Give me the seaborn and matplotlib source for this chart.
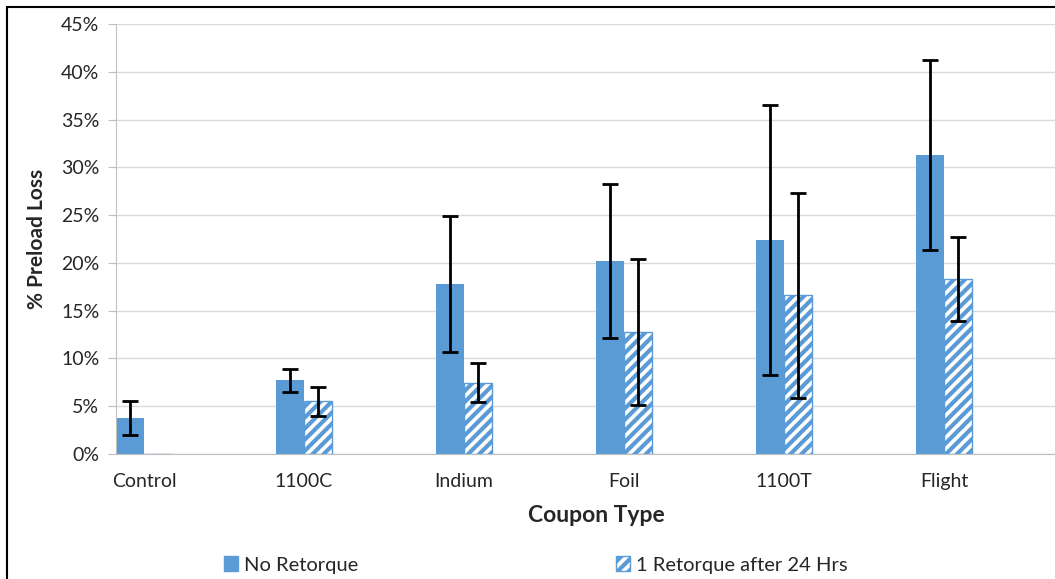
import numpy as np
import pandas as pd
import matplotlib
matplotlib.use("Agg")
import matplotlib.pyplot as plt
from matplotlib.patches import Patch, Rectangle
import seaborn as sns

# values (percent)
coupons = ["Control", "1100C", "Indium", "Foil", "1100T", "Flight"]
no_retorque = [3.75, 7.7, 17.8, 20.2, 22.4, 31.3]
no_retorque_err = [1.75, 1.2, 7.1, 8.1, 14.1, 9.9]
retorque = [0.0, 5.5, 7.45, 12.8, 16.6, 18.3]
retorque_err = [0.0, 1.5, 2.05, 7.65, 10.7, 4.4]
series = ["No Retorque", "1 Retorque after 24 Hrs"]

blue = "#5B9BD5"

df = pd.DataFrame({
    "coupon": coupons * 2,
    "series": [series[0]] * len(coupons) + [series[1]] * len(coupons),
    "loss": no_retorque + retorque,
})

sns.set_style("white")
plt.rcParams["font.family"] = ["Lato", "DejaVu Sans"]
plt.rcParams["hatch.linewidth"] = 3.0
plt.rcParams["hatch.color"] = blue

fig = plt.figure(figsize=(10.55, 5.79), dpi=100)
ax = fig.add_axes([116 / 1055, 125 / 579, 1 - 116 / 1055, 430 / 579])

sns.barplot(data=df, x="coupon", y="loss", hue="series", order=coupons,
            hue_order=series, palette=[blue, blue], width=0.35, saturation=1,
            errorbar=None, legend=False, ax=ax)

# style the second series as hatched and add error bars
bar_conts = list(ax.containers)
for i, cont in enumerate(bar_conts):
    errs = [no_retorque_err, retorque_err][i]
    xs, ys = [], []
    for bar in cont.patches:
        bar.set_linewidth(0)
        if i == 1:
            bar.set_facecolor("white")
            bar.set_edgecolor(blue)
            bar.set_hatch("///")
            bar.set_linewidth(1.0)
        xs.append(bar.get_x() + bar.get_width() / 2)
        ys.append(bar.get_height())
    xs = np.array(xs)
    ys = np.array(ys)
    errs = np.array(errs)
    mask = errs > 0
    ax.errorbar(xs[mask], ys[mask], yerr=errs[mask], fmt="none",
                ecolor="black", elinewidth=2, capsize=6, capthick=2, zorder=5)

ax.set_ylim(0, 45)
ax.set_xlim(-0.175, (1055 - 144) / 160)
ax.set_yticks(np.arange(0, 46, 5))
ax.set_yticklabels([f"{v}%" for v in range(0, 46, 5)])
ax.yaxis.grid(True, color="#D9D9D9", linewidth=1)
ax.set_axisbelow(True)
for s in ["top", "right"]:
    ax.spines[s].set_visible(False)
ax.spines["left"].set_color("#BFBFBF")
ax.spines["bottom"].set_color("#BFBFBF")
ax.tick_params(axis="y", length=6, color="#BFBFBF", labelsize=14, pad=6, left=True)
ax.tick_params(axis="x", length=0, labelsize=14, pad=14)

ax.set_xlabel("Coupon Type", fontsize=16.5, fontweight="bold")
ax.xaxis.set_label_coords(0.512, -0.118)
ax.set_ylabel("% Preload Loss", fontsize=15, fontweight="bold", labelpad=10)

handles = [Patch(facecolor=blue, edgecolor=blue),
           Patch(facecolor="white", edgecolor=blue, hatch="///")]
fig.legend(handles, series, loc="center left", bbox_to_anchor=(206 / 1055, 14 / 579),
           ncol=2, frameon=False, fontsize=14.5, handlelength=0.7,
           handleheight=0.7, handletextpad=0.3, columnspacing=12.8)

# outer chart frame (cropped on right and bottom)
fig.patches.append(Rectangle((7 / 1055, -0.1), 1.2, (579 - 7) / 579 + 0.1,
                             transform=fig.transFigure, fill=False,
                             edgecolor="black", linewidth=1.5))

fig.savefig("out.png", dpi=100)
